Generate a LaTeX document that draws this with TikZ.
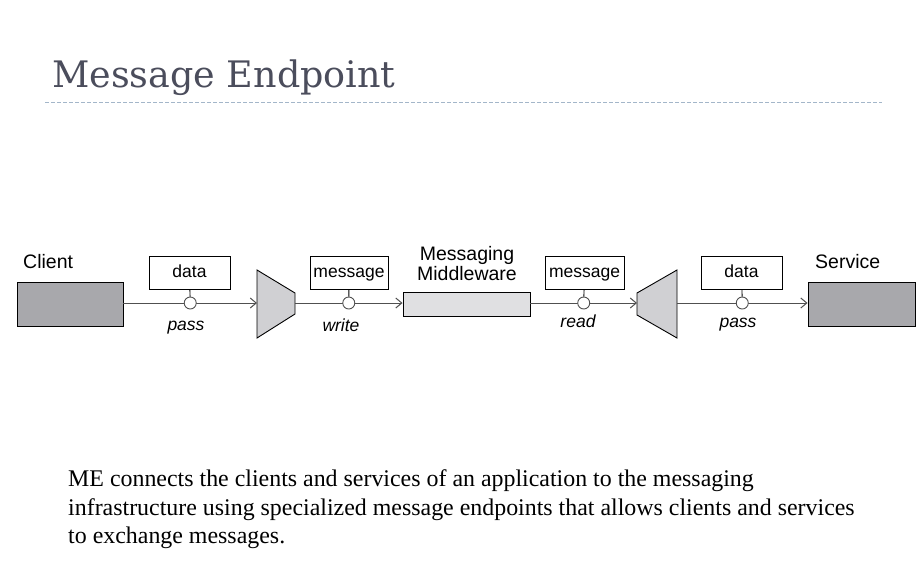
\documentclass[tikz,border=0pt]{standalone}
\usepackage{fontspec}
\setmainfont{Liberation Serif}
\setsansfont{Liberation Sans}
\newfontfamily\titlefont{DejaVu Serif}
\usetikzlibrary{arrows.meta}

\definecolor{titlegray}{HTML}{4B4D5C}
\definecolor{rulegray}{HTML}{A3B6C9}
\definecolor{linegray}{HTML}{505050}
\definecolor{darkfill}{HTML}{A8A8AC}
\definecolor{lightfill}{HTML}{D0D0D3}
\definecolor{mwfill}{HTML}{E0E0E2}

\begin{document}
\begin{tikzpicture}[x=1pt,y=-1pt,
    conn/.style={draw=linegray,line width=1pt,-{Straight Barb[length=6pt,width=10pt]}},
    party/.style={draw,line width=0.9pt,fill=darkfill,minimum width=106pt,minimum height=44pt,inner sep=0pt},
    msgbox/.style={draw,line width=0.9pt,fill=white,minimum height=33pt,inner sep=0pt,text height=13pt,text depth=3.5pt,font=\sffamily\fontsize{17.5}{19}\selectfont},
    port/.style={circle,draw,line width=0.9pt,fill=white,minimum size=12pt,inner sep=0pt},
    verb/.style={font=\sffamily\itshape\fontsize{17.5}{19}\selectfont,inner sep=0pt,anchor=base},
    lbl/.style={font=\sffamily\fontsize{19.5}{20}\selectfont,inner sep=0pt},
    desc/.style={font=\fontsize{23.9}{29}\selectfont,anchor=base west,inner sep=0pt}]
    \useasboundingbox (0,0) rectangle (924,584);

    \node[anchor=base west,inner sep=0pt,text=titlegray,font=\titlefont\fontsize{36.5}{40}\selectfont] (title) at (52,87) {Message Endpoint};
    \draw[rulegray,line width=0.8pt,dash pattern=on 4pt off 2pt] (45,102) -- (882,102);

    % client and service
    \node[party] (client) at (70,304) {};
    \node[lbl,anchor=base west] (clientlbl) at (23,268) {Client};
    \node[party,minimum width=107pt] (service) at (861.5,304) {};
    \node[lbl,anchor=base west] (servicelbl) at (815,268) {Service};

    % endpoints
    \draw[fill=lightfill,line width=0.9pt] (257,270) -- (295,293) -- (295,314) -- (257,338) -- cycle;
    \draw[fill=lightfill,line width=0.9pt] (637,293) -- (677,270) -- (677,338) -- (637,315) -- cycle;
    \coordinate (ep1in) at (257,303);
    \coordinate (ep1out) at (295,303);
    \coordinate (ep2in) at (637,303);
    \coordinate (ep2out) at (677,303);

    % middleware
    \node[draw,line width=0.9pt,fill=mwfill,minimum width=127pt,minimum height=24pt,inner sep=0pt] (mw) at (466.5,304) {};
    \node[lbl,align=center] (mwlbl) at (467,264) {Messaging\\Middleware};

    \node[msgbox,minimum width=81pt] (data1) at (189.5,272.5) {data};
    \node[msgbox,minimum width=78pt] (msg1) at (349,272.5) {message};
    \node[msgbox,minimum width=79pt] (msg2) at (584.5,272.5) {message};
    \node[msgbox,minimum width=81pt] (data2) at (741.5,272.5) {data};

    \draw[conn] (client.east |- ep1in) -- node[port] (p1) {} (ep1in);
    \draw[conn] (ep1out) -- node[port] (p2) {} (mw.west |- ep1out);
    \draw[conn] (mw.east |- ep2in) -- node[port] (p3) {} (ep2in);
    \draw[conn] (ep2out) -- node[port] (p4) {} (service.west |- ep2out);

    \draw[line width=0.9pt] (data1) -- (p1);
    \draw[line width=0.9pt] (msg1) -- (p2);
    \draw[line width=0.9pt] (msg2) -- (p3);
    \draw[line width=0.9pt] (data2) -- (p4);

    \node[verb] (pass1) at (186,330) {pass};
    \node[verb] (write) at (341,331) {write};
    \node[verb] (read) at (578,327) {read};
    \node[verb] (pass2) at (738,327) {pass};

    \node[desc] (desc1) at (68,486) {ME connects the clients and services of an application to the messaging};
    \node[desc] (desc2) at (68,515) {infrastructure using specialized message endpoints that allows clients and services};
    \node[desc] (desc3) at (68,543) {to exchange messages.};
\end{tikzpicture}
\end{document}
